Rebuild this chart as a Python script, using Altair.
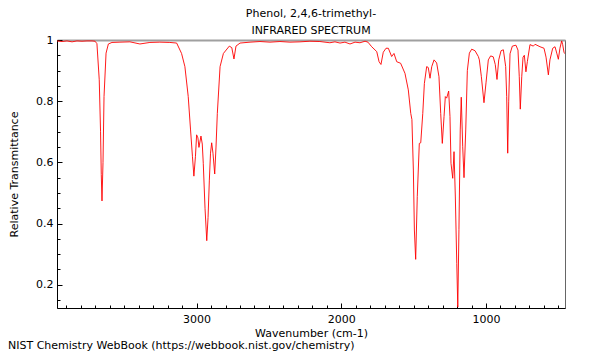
import altair as alt
import pandas as pd

# ---- data ----
wavenumber = [
    3965, 3930, 3896, 3861, 3827, 3792, 3758, 3723, 3702, 3689, 3673, 3664, 3659, 3654, 3647, 3640,
    3626, 3610, 3585, 3530, 3461, 3392, 3323, 3254, 3185, 3138, 3104, 3081, 3058, 3042, 3029, 3019,
    3008, 3000, 2991, 2984, 2970, 2961, 2954, 2942, 2930, 2921, 2912, 2904, 2896, 2887, 2875, 2866,
    2857, 2838, 2815, 2774, 2757, 2742, 2728, 2700, 2631, 2562, 2493, 2424, 2355, 2286, 2217, 2148,
    2079, 2044, 2009, 1975, 1940, 1905, 1871, 1836, 1816, 1790, 1755, 1739, 1726, 1710, 1691, 1675,
    1652, 1636, 1617, 1590, 1560, 1537, 1520, 1512, 1502, 1495, 1486, 1475, 1461, 1451, 1437, 1426,
    1410, 1399, 1387, 1375, 1359, 1341, 1325, 1313, 1302, 1290, 1281, 1272, 1258, 1249, 1242, 1230,
    1221, 1212, 1202, 1195, 1187, 1178, 1171, 1161, 1152, 1140, 1129, 1115, 1099, 1076, 1053, 1046,
    1032, 1014, 1000, 984, 968, 950, 936, 924, 912, 896, 880, 864, 857, 850, 843, 834,
    818, 793, 779, 770, 763, 753, 744, 735, 724, 714, 696, 673, 661, 627, 599, 585,
    569, 558, 539, 523, 511, 500, 489, 477, 470, 461, 454,
]
transmittance = [
    0.997, 0.995, 0.997, 0.994, 0.997, 0.996, 0.997, 0.997, 0.996, 0.988, 0.87, 0.70, 0.56, 0.474, 0.60, 0.815,
    0.957, 0.987, 0.992, 0.993, 0.994, 0.987, 0.992, 0.993, 0.992, 0.99, 0.956, 0.913, 0.815, 0.706, 0.62, 0.555,
    0.62, 0.69, 0.68, 0.649, 0.686, 0.66, 0.597, 0.45, 0.344, 0.42, 0.542, 0.63, 0.664, 0.63, 0.562, 0.65,
    0.76, 0.913, 0.956, 0.98, 0.975, 0.938, 0.98, 0.99, 0.993, 0.995, 0.993, 0.995, 0.993, 0.994, 0.996, 0.995,
    0.991, 0.994, 0.990, 0.993, 0.987, 0.993, 0.991, 0.996, 0.993, 0.978, 0.962, 0.929, 0.92, 0.96, 0.973, 0.973,
    0.946, 0.956, 0.929, 0.924, 0.891, 0.837, 0.76, 0.74, 0.575, 0.379, 0.283, 0.488, 0.662, 0.664, 0.76, 0.858,
    0.913, 0.91, 0.875, 0.913, 0.935, 0.925, 0.88, 0.76, 0.662, 0.75, 0.815, 0.81, 0.833, 0.75, 0.597, 0.548,
    0.635, 0.49, 0.27, 0.127, 0.38, 0.706, 0.813, 0.651, 0.55, 0.706, 0.90, 0.957, 0.97, 0.965, 0.946, 0.935,
    0.88, 0.795, 0.86, 0.935, 0.948, 0.945, 0.92, 0.871, 0.935, 0.965, 0.968, 0.913, 0.815, 0.63, 0.80, 0.955,
    0.98, 0.983, 0.967, 0.88, 0.774, 0.88, 0.944, 0.95, 0.896, 0.93, 0.985, 0.98, 0.986, 0.978, 0.973, 0.944,
    0.886, 0.935, 0.973, 0.978, 0.957, 0.937, 0.973, 0.997, 0.985, 0.96, 0.955,
]

title_lines = ["Phenol, 2,4,6-trimethyl-", "INFRARED SPECTRUM"]
x_title = "Wavenumber (cm-1)"
y_title = "Relative Transmittance"
footer = ["NIST Chemistry WebBook (https://webbook.nist.gov/chemistry)"]

x_major = [1000, 2000, 3000]
x_minor = [500, 600, 700, 800, 900, 1100, 1200, 1300, 1400, 1500, 1600, 1700, 1800, 1900,
           2100, 2200, 2300, 2400, 2500, 2600, 2700, 2800, 2900, 3100, 3200, 3300, 3400,
           3500, 3600, 3700, 3800, 3900]
y_major = [0.2, 0.4, 0.6, 0.8, 1.0]
y_minor = [0.15, 0.25, 0.3, 0.35, 0.45, 0.5, 0.55, 0.65, 0.7, 0.75, 0.85, 0.9, 0.95]

FONT = "DejaVu Sans"

df = pd.DataFrame({"wn": wavenumber, "T": transmittance})

xscale = alt.Scale(domain=[3965, 454], nice=False, zero=False)
yscale = alt.Scale(domain=[0.124, 1.0], nice=False, zero=False)

common_axis = dict(grid=False, labelFont=FONT, labelFontSize=11, labelColor="black",
                   titleFont=FONT, titleFontSize=11, titleColor="black", titleFontWeight="normal")

line = alt.Chart(df).mark_line(color="#ff0000", strokeWidth=0.9, clip=True).encode(
    x=alt.X("wn:Q", scale=xscale,
            axis=alt.Axis(orient="bottom", values=x_major, format="d", title=x_title,
                          ticks=False, tickSize=0, labelPadding=5, titlePadding=3,
                          domainColor="black", domainWidth=1, **common_axis)),
    y=alt.Y("T:Q", scale=yscale,
            axis=alt.Axis(orient="left", values=y_major, format="~g", title=y_title,
                          ticks=False, tickSize=0, labelPadding=4, titlePadding=16,
                          domainColor="black", domainWidth=1, **common_axis)),
)


def tick_layer(xaxis, yaxis):
    return alt.Chart(df).mark_line(opacity=0).encode(
        x=alt.X("wn:Q", scale=xscale, axis=xaxis),
        y=alt.Y("T:Q", scale=yscale, axis=yaxis),
    )


xminor_l = tick_layer(alt.Axis(orient="bottom", values=x_minor, offset=-3, tickSize=3, tickColor="black",
                               labels=False, domain=False, title=None, grid=False), None)
xmajor_l = tick_layer(alt.Axis(orient="bottom", values=x_major, offset=-5, tickSize=5, tickColor="black",
                               labels=False, domain=False, title=None, grid=False), None)
yminor_l = tick_layer(None, alt.Axis(orient="left", values=y_minor, offset=-3, tickSize=3, tickColor="black",
                                     labels=False, domain=False, title=None, grid=False))
ymajor_l = tick_layer(None, alt.Axis(orient="left", values=y_major, offset=-5, tickSize=5, tickColor="black",
                                     labels=False, domain=False, title=None, grid=False))
top_l = tick_layer(alt.Axis(orient="top", domainColor="#a0a0a0", domainWidth=2, ticks=False,
                            labels=False, title=None, grid=False), None)

foot = alt.Chart(pd.DataFrame({"t": footer})).mark_text(
    align="left", baseline="bottom", font=FONT, fontSize=11, color="black"
).encode(x=alt.value(-49), y=alt.value(311), text="t:N")

chart = alt.layer(line, xminor_l, xmajor_l, yminor_l, ymajor_l, top_l, foot).resolve_axis(
    x="independent", y="independent"
).properties(
    width=508, height=268,
    padding={"left": 49, "top": 32, "right": 27, "bottom": 44},
    autosize=alt.AutoSizeParams(type="none"),
    title=alt.TitleParams(text=title_lines, font=FONT, fontSize=11, fontWeight="normal",
                          color="black", anchor="middle", offset=-2, lineHeight=17),
).configure_view(stroke="#666666", strokeWidth=1)

chart.save("out.html", embed_options={"renderer": "svg", "actions": False})
